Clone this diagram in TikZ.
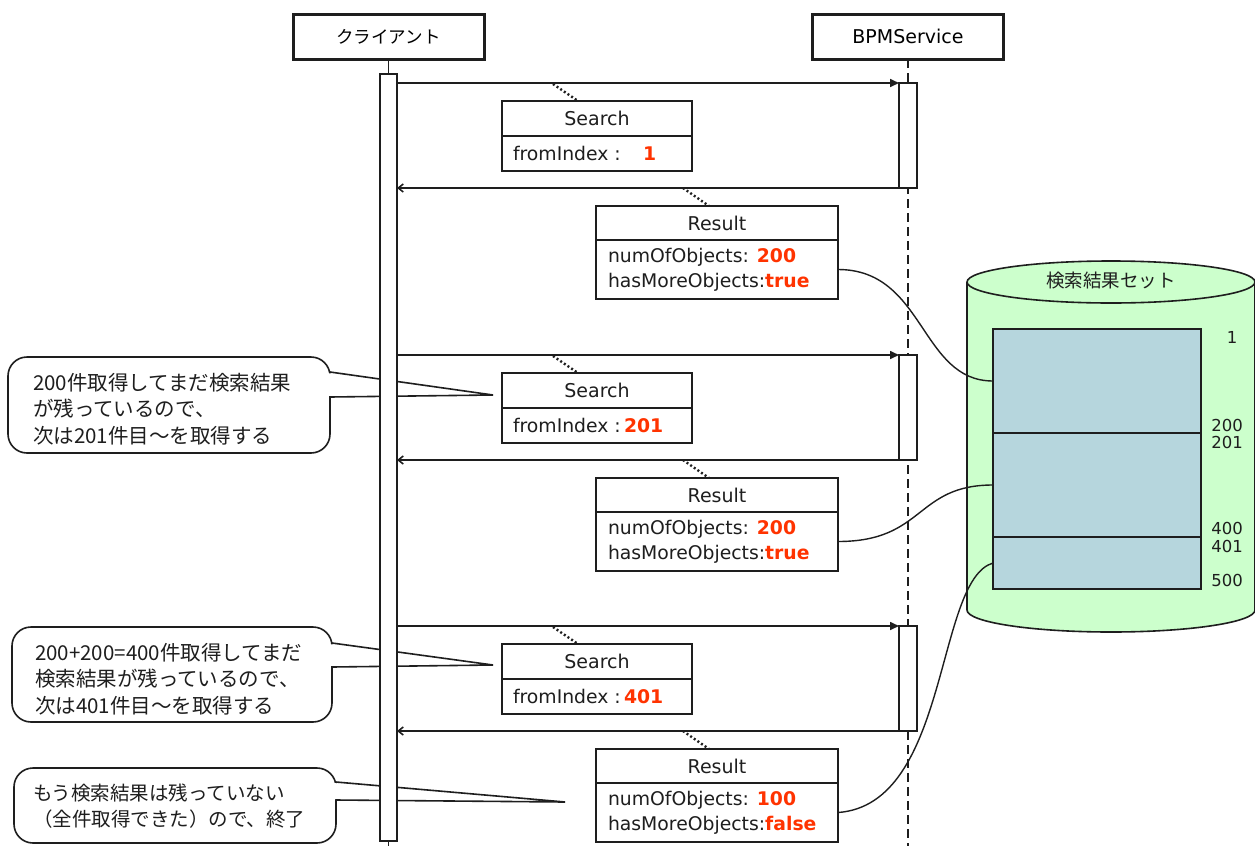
\documentclass[tikz,border=0pt]{standalone}
\usepackage{fontspec}
\setmainfont{DejaVu Sans}
\newfontfamily\jpfont{Noto Sans CJK JP}
\usetikzlibrary{arrows.meta,calc}
\definecolor{ink}{HTML}{1E1E1E}
\definecolor{valred}{HTML}{FF3300}
\definecolor{setgreen}{HTML}{CCFFCC}
\definecolor{rowblue}{HTML}{B6D6DD}

\begin{document}
\begin{tikzpicture}[x=1pt,y=-1pt,
  every node/.style={inner sep=0pt,outer sep=0pt},
  headbox/.style={draw=ink,line width=3pt,fill=white,minimum width=191pt,minimum height=45pt},
  actbar/.style={draw=ink,line width=1.6pt,fill=white},
  msgline/.style={draw=ink,line width=1.6pt},
  msgbox/.style={draw=ink,line width=1.6pt,fill=white,font=\fontsize{19}{22}\selectfont,text=ink},
  lbl/.style={font=\fontsize{18.8}{22}\selectfont,text=ink},
  notelink/.style={draw=ink,line width=2.4pt,dash pattern=on 2pt off 2.4pt},
  lifeline/.style={draw=ink,line width=1.6pt},
  svcline/.style={draw=ink,line width=1.6pt,dash pattern=on 9pt off 5pt},
  cyl/.style={draw=ink,line width=1.6pt},
  rowbox/.style={draw=ink,line width=1.6pt,fill=rowblue,minimum width=208pt},
  numlbl/.style={font=\fontsize{16.5}{18}\selectfont,text=ink},
  link/.style={draw=ink,line width=1.4pt},
  callbody/.style={draw=ink,line width=1.6pt,fill=white,rounded corners=19pt},
  calledge/.style={draw=ink,line width=1.6pt},
  calltext/.style={font=\jpfont\fontsize{20.5}{26.5}\selectfont,text=ink,align=left,anchor=west},
]
% canvas
\fill[white] (0,0) rectangle (1255,846);
\useasboundingbox (0,0) rectangle (1255,846);

% ---- call-out notes (drawn first, the lifeline passes over them)
\coordinate (t1) at (493,395);
\coordinate (t2) at (493,665);
\coordinate (t3) at (565,802);
\draw[callbody] (8,357) rectangle (330,453);
\fill[white] (327,373) -- (t1) -- (327,396) -- cycle;
\draw[calledge] (330,372) -- (t1) -- (330,397);
\node[calltext] (c1) at (33,409) {200件取得してまだ検索結果\\が残っているので、\\次は201件目～を取得する};

\draw[callbody] (12,627) rectangle (332,722);
\fill[white] (329,644) -- (t2) -- (329,666) -- cycle;
\draw[calledge] (332,643) -- (t2) -- (332,667);
\node[calltext] (c2) at (35,679) {200+200=400件取得してまだ\\検索結果が残っているので、\\次は401件目～を取得する};

\draw[callbody] (14,768) rectangle (336,843);
\fill[white] (333,783) -- (t3) -- (333,799) -- cycle;
\draw[calledge] (336,782) -- (t3) -- (336,800);
\node[calltext,font=\jpfont\fontsize{19.5}{26}\selectfont] (c3) at (33,806) {もう検索結果は残っていない\\（全件取得できた）ので、終了};

% ---- participants
\node[headbox,font=\jpfont\fontsize{17.5}{20}\selectfont] (client) at (388.5,36.5) {クライアント};
\node[headbox,font=\fontsize{19}{22}\selectfont] (bpm) at (908,36.5) {BPMService};
\coordinate (clientend) at (388.5,846);
\coordinate (bpmend) at (908,846);
\node[actbar,minimum width=17pt,minimum height=767pt] (cbar) at (388.5,457.5) {};
\draw[lifeline] (client.south) -- (cbar.north);
\draw[lifeline] (cbar.south) -- (clientend);
\draw[svcline] (bpm.south) -- (bpmend);

% ---- the three request / reply rounds
\foreach \i/\dy/\from/\fx/\num/\more in {1/0/1/643/200/true, 2/272/201/624/200/true, 3/543/401/624/100/false}{
  \node[actbar,minimum width=18pt,minimum height=105pt] (sb\i) at (908,{135.5+\dy}) {};
  \draw[msgline,-{Triangle[length=9pt,width=8pt]}] (cbar.east |- sb\i.north) -- (sb\i.north west);
  \draw[msgline,-{Straight Barb[length=5pt,width=8pt]}] (sb\i.south west) -- (cbar.east |- sb\i.south);
  % Search message
  \node[msgbox,minimum width=190pt,minimum height=35pt,anchor=north west] (sh\i) at (502,{101+\dy}) {Search};
  \node[msgbox,minimum width=190pt,minimum height=35pt,anchor=north] (sv\i) at (sh\i.south) {};
  \node[lbl,anchor=west] (sk\i) at ($(sv\i.west)+(11,0)$) {fromIndex :};
  \node[lbl,anchor=west,text=valred,font=\fontsize{18.8}{22}\selectfont\bfseries] (sn\i) at ($(sv\i.west)+({\fx-502},0)$) {\from};
  \draw[notelink] ($(sh\i.north west)+(51,-17)$) -- ($(sh\i.north west)+(76,0)$);
  % Result message
  \node[msgbox,minimum width=242pt,minimum height=34pt,anchor=north west] (rh\i) at (596,{206+\dy}) {Result};
  \node[msgbox,minimum width=242pt,minimum height=59pt,anchor=north] (rv\i) at (rh\i.south) {};
  \node[lbl,anchor=west] (rn\i) at ($(rv\i.north west)+(12,17)$) {numOfObjects: \textcolor{valred}{\bfseries\num}};
  \node[lbl,anchor=west] (rm\i) at ($(rv\i.north west)+(12,42)$) {hasMoreObjects:\textcolor{valred}{\bfseries\more}};
  \draw[notelink] ($(rh\i.north west)+(87,-18)$) -- ($(rh\i.north west)+(113,0)$);
}

% ---- result set store
\fill[setgreen] (967,282) rectangle (1255,610);
\fill[setgreen] (1111,610) ellipse [x radius=144pt,y radius=22pt];
\begin{scope}
  \clip (950,610) rectangle (1260,640);
  \draw[cyl] (1111,610) ellipse [x radius=144pt,y radius=22pt];
\end{scope}
\draw[cyl] (967,282) -- (967,610);
\draw[cyl] (1255,282) -- (1255,610);
\draw[cyl,fill=setgreen] (1111,282) ellipse [x radius=144pt,y radius=21pt];
\node[font=\jpfont\fontsize{18.5}{20}\selectfont,text=ink] (settitle) at (1111,281) {検索結果セット};

\node[rowbox,minimum height=104pt,anchor=north west] (rowa) at (993,329) {};
\node[rowbox,minimum height=104pt,anchor=north west] (rowb) at (993,433) {};
\node[rowbox,minimum height=52pt,anchor=north west] (rowc) at (993,537) {};
\node[numlbl] (k1) at (1232,337) {1};
\node[numlbl] (k200) at (1227,425) {200};
\node[numlbl] (k201) at (1227,442) {201};
\node[numlbl] (k400) at (1227,528) {400};
\node[numlbl] (k401) at (1227,546) {401};
\node[numlbl] (k500) at (1227,580) {500};

% ---- each reply points at the rows it returned
\draw[link] (rv1.east) .. controls +(87,0) and +(-73,0) .. (rowa.west);
\draw[link] (rv2.east) .. controls +(87,0) and +(-78,0) .. (rowb.west);
\draw[link] (rv3.east) .. controls +(112,-8) and +(-58,17) .. (rowc.west);
\end{tikzpicture}
\end{document}
